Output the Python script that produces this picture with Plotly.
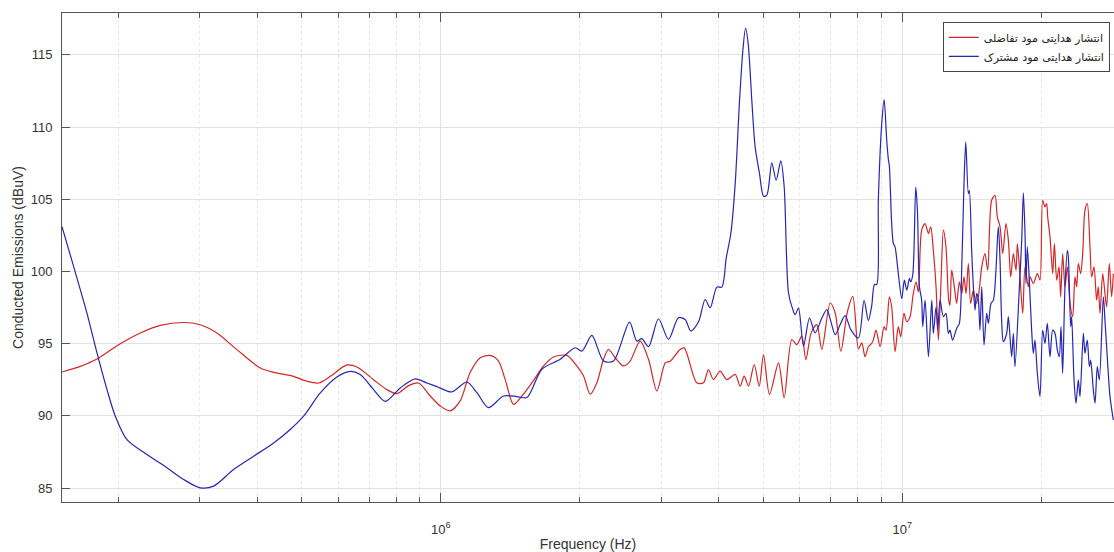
import numpy as np
import plotly.graph_objects as go

# ---------------- data (frequency in MHz, level in dBuV) ----------------
freq_dm_mhz = [
    0.151, 0.1654, 0.1798, 0.2003, 0.2232, 0.2465, 0.277, 0.301, 0.3271, 0.3614,
    0.4061, 0.4341, 0.4794, 0.5124, 0.5433, 0.5759, 0.6258, 0.6577, 0.7147, 0.7638,
    0.8028, 0.851, 0.8946, 0.948, 0.997, 1.047, 1.101, 1.157, 1.217, 1.279,
    1.333, 1.378, 1.437, 1.498, 1.575, 1.669, 1.754, 1.875, 1.970, 2.038,
    2.106, 2.178, 2.251, 2.308, 2.386, 2.487, 2.571, 2.703, 2.818, 2.938,
    3.064, 3.141, 3.298, 3.367, 3.585, 3.707, 3.800, 3.896, 4.027, 4.164,
    4.343, 4.452, 4.542, 4.642, 4.775, 4.896, 5.001, 5.153, 5.391, 5.545,
    5.760, 5.906, 6.055, 6.178, 6.344, 6.526, 6.691, 6.975, 7.151, 7.357,
    7.605, 7.810, 8.032, 8.167, 8.30, 8.44, 8.58, 8.65, 8.77, 8.95,
    9.13, 9.22, 9.37, 9.48, 9.64, 9.80, 9.92, 10.08, 10.22, 10.39,
    10.56, 10.71, 10.83, 11.01, 11.20, 11.39, 11.52, 11.67, 11.83, 11.97,
    12.13, 12.27, 12.43, 12.60, 12.68, 12.79, 12.96, 13.11, 13.29, 13.45,
    13.60, 13.74, 13.90, 14.06, 14.25, 14.44, 14.61, 14.86, 15.10, 15.31,
    15.61, 15.88, 16.06, 16.28, 16.50, 16.77, 16.97, 17.17, 17.40, 17.63,
    17.75, 17.93, 18.23, 18.44, 18.75, 18.91, 19.22, 19.61, 19.87, 20.14,
    20.37, 20.54, 20.65, 20.89, 21.17, 21.35, 21.60, 21.85, 22.03, 22.25,
    22.51, 22.78, 23.08, 23.39, 23.66, 23.86, 24.06, 24.34, 24.59, 24.87,
    25.16, 25.50, 25.71, 26.02, 26.36, 26.58, 26.81, 27.17, 27.48, 27.71,
    28.08, 28.41, 28.65,
]
level_dm = [
    93.04, 93.43, 93.94, 94.93, 95.74, 96.27, 96.47, 96.31, 95.74, 94.59,
    93.32, 93.02, 92.74, 92.40, 92.28, 92.74, 93.53, 93.39, 92.51, 91.82,
    91.54, 92.10, 92.28, 91.38, 90.69, 90.35, 91.04, 93.00, 94.03, 94.19,
    93.80, 92.53, 90.80, 91.38, 92.30, 93.46, 94.08, 94.19, 93.46, 92.76,
    91.50, 92.30, 93.92, 94.60, 94.03, 93.46, 93.80, 95.18, 93.92, 91.73,
    93.67, 93.79, 94.60, 94.71, 92.29, 92.29, 93.21, 92.52, 93.10, 92.52,
    92.87, 92.06, 92.75, 92.06, 93.56, 92.06, 94.25, 91.49, 93.67, 91.26,
    95.29, 94.94, 95.52, 93.90, 95.75, 96.32, 94.60, 97.82, 97.13, 94.48,
    97.24, 98.28, 94.64, 95.06, 94.10, 94.79, 95.02, 95.25, 95.94, 94.79,
    96.18, 95.94, 98.25, 97.56, 94.45, 96.18, 95.48, 97.10, 96.52, 96.87,
    98.48, 99.29, 98.59, 102.86, 103.32, 102.63, 103.09, 101.47, 98.94, 95.25,
    99.40, 102.86, 101.71, 98.02, 97.67, 100.09, 98.94, 97.79, 99.29, 98.48,
    99.63, 98.48, 100.55, 97.79, 98.71, 97.79, 98.25, 100.32, 101.24, 100.09,
    104.93, 105.28, 103.78, 103.09, 101.24, 103.32, 102.17, 99.63, 101.24, 100.09,
    101.94, 100.32, 97.10, 100.32, 98.94, 99.63, 99.17, 99.86, 99.40, 104.93,
    104.47, 104.70, 103.78, 102.40, 99.86, 101.94, 99.40, 100.32, 98.25, 101.24,
    98.94, 100.32, 97.79, 96.87, 99.63, 98.94, 100.55, 99.86, 101.24, 104.24,
    104.70, 101.71, 99.63, 100.32, 98.02, 98.94, 97.10, 99.86, 98.48, 97.56,
    100.55, 98.25, 99.86,
]

freq_cm_mhz = [
    0.151, 0.160, 0.171, 0.1798, 0.189, 0.197, 0.2088, 0.2307, 0.2549, 0.277,
    0.301, 0.3217, 0.3554, 0.3928, 0.4341, 0.4716, 0.5041, 0.5478, 0.5952, 0.6362,
    0.6688, 0.7147, 0.7576, 0.8166, 0.880, 0.9327, 0.980, 1.056, 1.138, 1.197,
    1.268, 1.367, 1.461, 1.536, 1.655, 1.813, 1.954, 2.021, 2.124, 2.251,
    2.366, 2.563, 2.658, 2.725, 2.818, 2.962, 3.113, 3.272, 3.383, 3.479,
    3.615, 3.738, 3.833, 3.963, 4.063, 4.152, 4.250, 4.343, 4.438, 4.512,
    4.573, 4.634, 4.718, 4.797, 4.902, 5.001, 5.085, 5.213, 5.327, 5.453,
    5.545, 5.666, 5.790, 5.858, 5.956, 6.106, 6.292, 6.472, 6.691, 6.860,
    6.998, 7.151, 7.331, 7.516, 7.732, 8.032, 8.26, 8.44, 8.58, 8.70,
    8.80, 8.87, 9.02, 9.13, 9.25, 9.33, 9.37, 9.48, 9.56, 9.64,
    9.80, 9.97, 10.10, 10.22, 10.36, 10.42, 10.53, 10.69, 10.78, 10.89,
    11.01, 11.07, 11.20, 11.39, 11.58, 11.67, 11.83, 11.93, 12.07, 12.27,
    12.43, 12.58, 12.68, 12.85, 13.11, 13.29, 13.45, 13.60, 13.72, 13.90,
    13.97, 14.13, 14.25, 14.37, 14.49, 14.61, 14.73, 14.86, 15.03, 15.23,
    15.36, 15.56, 15.75, 16.14, 16.28, 16.41, 16.55, 16.83, 16.97, 17.25,
    17.40, 17.54, 17.93, 18.14, 18.29, 18.44, 18.53, 18.65, 18.84, 19.06,
    19.22, 19.38, 19.61, 19.87, 20.14, 20.37, 20.61, 20.89, 21.17, 21.42,
    21.67, 21.88, 22.07, 22.25, 22.51, 22.78, 22.89, 23.16, 23.27, 23.55,
    23.78, 24.06, 24.26, 24.67, 24.87, 25.16, 25.42, 25.59, 25.93, 26.15,
    26.45, 26.72, 27.26, 27.48, 27.71, 27.94, 28.18, 28.65,
]
level_cm = [
    103.11, 100.35, 97.12, 94.36, 91.82, 89.98, 88.36, 87.33, 86.41, 85.60,
    85.02, 85.14, 86.29, 87.21, 88.13, 89.06, 89.98, 91.59, 92.70, 93.09,
    92.86, 91.82, 91.01, 91.94, 92.56, 92.28, 92.03, 91.66, 92.35, 91.61,
    90.58, 91.38, 91.34, 91.27, 93.23, 93.92, 94.72, 94.49, 95.58, 93.80,
    93.80, 96.50, 95.18, 95.35, 94.79, 96.73, 95.30, 96.80, 96.68, 95.88,
    96.50, 98.06, 97.49, 98.92, 98.92, 100.92, 102.65, 106.10, 111.85, 115.30,
    116.86, 115.76, 111.85, 108.63, 106.79, 105.22, 105.29, 107.52, 106.33, 107.66,
    105.87, 98.51, 97.36, 97.01, 97.47, 94.83, 96.78, 95.75, 96.78, 97.36,
    96.55, 95.63, 96.32, 96.94, 95.98, 95.40, 98.00, 96.60, 97.60, 99.10,
    99.10, 104.90, 110.20, 111.90, 109.09, 107.70, 107.35, 103.34, 101.94, 101.71,
    99.86, 98.13, 99.40, 98.71, 99.52, 99.29, 99.75, 105.85, 104.24, 98.94,
    98.02, 96.18, 98.02, 94.10, 98.02, 95.71, 97.56, 95.94, 98.02, 96.87,
    97.10, 95.71, 95.94, 95.25, 96.06, 96.41, 100.32, 106.08, 108.96, 105.39,
    105.62, 101.47, 98.94, 97.33, 98.48, 98.02, 95.94, 98.94, 94.91, 97.10,
    96.41, 97.79, 98.02, 103.09, 100.78, 96.64, 95.14, 95.71, 96.87, 94.10,
    95.71, 93.41, 98.94, 102.17, 105.44, 102.63, 99.17, 101.71, 99.40, 95.94,
    94.33, 95.25, 92.95, 91.34, 95.94, 95.02, 96.41, 94.10, 95.94, 95.71,
    94.56, 94.10, 96.18, 92.95, 98.94, 101.47, 101.01, 96.18, 96.87, 92.49,
    90.88, 92.49, 91.34, 95.71, 94.33, 95.25, 93.41, 93.87, 91.80, 90.88,
    93.41, 92.49, 98.25, 96.64, 94.79, 92.95, 91.34, 89.72,
]

series_names = ["انتشار هدایتی مود تفاضلی", "انتشار هدایتی مود مشترک"]
x_tick_vals = [1e6, 1e7]
x_tick_text = ["10<sup>6</sup>", "10<sup>7</sup>"]
y_tick_vals = [85, 90, 95, 100, 105, 110, 115]
x_title = "Frequency (Hz)"
y_title = "Conducted Emissions (dBuV)"

# ---------------- figure ----------------
freq_dm = np.array(freq_dm_mhz) * 1e6
freq_cm = np.array(freq_cm_mhz) * 1e6

RED = "#d42626"
BLUE = "#2626b4"

fig = go.Figure()
fig.add_trace(go.Scatter(x=freq_dm, y=level_dm, mode="lines", name=series_names[0],
                         line=dict(color=RED, width=1.2, shape="spline", smoothing=0.8)))
fig.add_trace(go.Scatter(x=freq_cm, y=level_cm, mode="lines", name=series_names[1],
                         line=dict(color=BLUE, width=1.2, shape="spline", smoothing=0.8)))

axis_col = "#555555"
fig.update_layout(
    width=1114, height=552,
    margin=dict(l=62, r=0, t=13, b=50),
    paper_bgcolor="white", plot_bgcolor="white",
    font=dict(family="Liberation Sans, Arial, DejaVu Sans", color="#333333", size=13),
    showlegend=True,
    legend=dict(
        x=0.996, y=0.982, xanchor="right", yanchor="top",
        bgcolor="white", bordercolor="#444444", borderwidth=1,
        font=dict(family="DejaVu Sans, Liberation Sans", size=11, color="#222222"),
        tracegroupgap=0, itemwidth=30,
    ),
    xaxis=dict(
        type="log",
        range=[np.log10(1.51e5), 7.4586],
        tickvals=x_tick_vals, ticktext=x_tick_text,
        ticks="inside", ticklen=9, tickcolor=axis_col, tickwidth=1,
        ticklabelstandoff=15,
        showline=True, linecolor=axis_col, linewidth=1, mirror="ticks",
        showgrid=True, gridcolor="#e2e2e2", gridwidth=1,
        minor=dict(ticks="inside", ticklen=5, tickcolor=axis_col,
                   showgrid=True, gridcolor="#e6e6e6", griddash="dot",
                   tickvals=[2e5, 3e5, 4e5, 5e5, 6e5, 7e5, 8e5, 9e5,
                             2e6, 3e6, 4e6, 5e6, 6e6, 7e6, 8e6, 9e6, 2e7]),
        tickfont=dict(size=13, color="#333333"),
        title=dict(text=x_title, font=dict(size=14, color="#333333"), standoff=4),
        zeroline=False,
    ),
    yaxis=dict(
        range=[84.04, 117.9],
        tickvals=y_tick_vals,
        ticks="inside", ticklen=8, tickcolor=axis_col,
        ticklabelstandoff=6,
        showline=True, linecolor=axis_col, linewidth=1, mirror=False,
        showgrid=True, gridcolor="#e2e2e2", gridwidth=1,
        tickfont=dict(size=13, color="#333333"),
        title=dict(text=y_title, font=dict(size=14, color="#333333"), standoff=3),
        zeroline=False,
    ),
)

fig.write_html("out.html")
